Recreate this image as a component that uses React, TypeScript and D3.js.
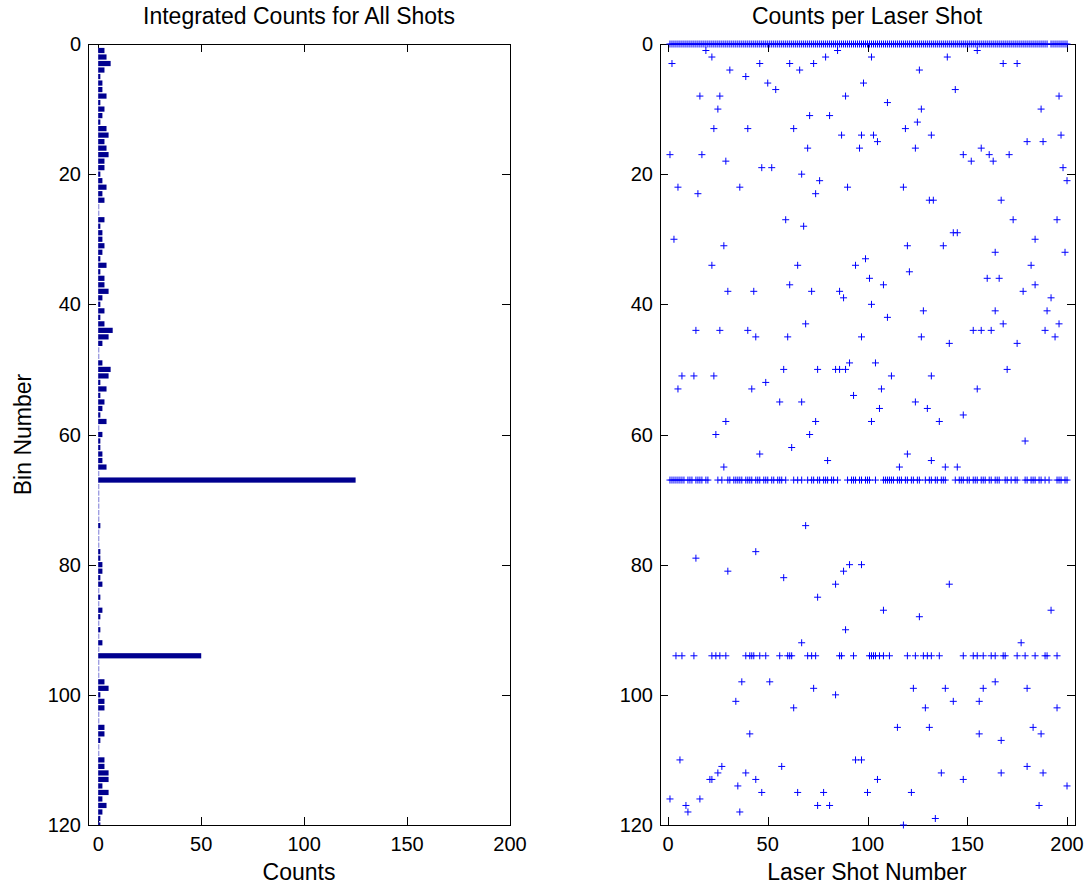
import React from 'react';
import * as d3 from 'd3';

// Integrated counts per bin (bins 1..120), summed over all laser shots
const binNumbers = d3.range(1, 121);
const integratedCounts = [
  3, 4, 6, 3, 1, 2, 2, 4, 1, 3,
  2, 1, 4, 5, 3, 4, 5, 3, 3, 1,
  2, 4, 2, 3, 0, 0, 3, 1, 2, 2,
  3, 2, 1, 4, 1, 3, 3, 5, 2, 1,
  3, 1, 3, 7, 5, 2, 0, 0, 2, 6,
  5, 1, 4, 1, 3, 2, 1, 4, 0, 2,
  1, 1, 2, 2, 4, 0, 125, 0, 0, 0,
  0, 0, 0, 1, 0, 0, 0, 1, 1, 2,
  2, 1, 2, 0, 1, 0, 2, 1, 0, 1,
  0, 2, 0, 50, 0, 0, 0, 3, 5, 1,
  3, 3, 0, 0, 3, 3, 1, 0, 0, 3,
  3, 5, 5, 2, 5, 2, 4, 2, 1, 1,
];

// Shots that registered a count in bin 0
const zeroBinShots = [
  1, 2, 3, 4, 5, 6, 7, 8, 9, 10, 11, 12, 13, 14, 15, 16, 17, 18, 19, 20,
  21, 22, 23, 24, 25, 26, 27, 28, 29, 30, 31, 32, 33, 34, 35, 36, 37, 38, 39, 40,
  41, 42, 43, 44, 45, 46, 47, 48, 49, 50, 51, 52, 53, 54, 55, 56, 57, 58, 59, 60,
  61, 62, 63, 64, 65, 66, 67, 68, 69, 70, 71, 72, 73, 74, 75, 76, 77, 78, 79, 80,
  81, 82, 83, 84, 85, 86, 87, 88, 89, 90, 91, 92, 93, 94, 95, 96, 97, 98, 99, 100,
  101, 102, 103, 104, 105, 106, 107, 108, 109, 110, 111, 112, 113, 114, 115, 116, 117, 118, 119, 120,
  121, 122, 123, 124, 125, 126, 127, 128, 129, 130, 131, 132, 133, 134, 135, 136, 137, 138, 139, 140,
  141, 142, 143, 144, 145, 146, 147, 148, 149, 150, 151, 152, 153, 154, 155, 156, 157, 158, 159, 160,
  161, 162, 163, 164, 165, 166, 167, 168, 169, 170, 171, 172, 173, 174, 175, 176, 177, 178, 179, 180,
  181, 182, 183, 184, 185, 186, 187, 188, 189, 190, 192, 193, 194, 195, 196, 197, 198, 199, 200,
];

// Shots with a count in bin 67
const bin67Shots = [
  1, 2, 3, 4, 5, 6, 7, 8, 10, 11, 12, 14, 15, 16, 17, 19, 20,
  25, 27,
  30, 31, 33, 34, 35, 36, 37, 39, 40, 41, 42,
  44, 45, 46, 48, 49, 50, 52, 53, 55, 56, 57, 59,
  63, 65, 67,
  70, 72, 73,
  75, 76, 78, 79, 80, 82, 83, 85,
  90, 92, 93, 94, 96, 97, 99, 100, 101,
  104,
  108, 109, 110, 111, 112, 113, 115, 116, 117, 119, 120, 122, 123, 125, 126,
  129, 131, 132, 134, 135, 137, 138, 139,
  144, 146, 147, 148, 150, 151, 153, 154, 155, 157, 158, 159, 161, 162, 164, 165, 166,
  169, 170, 172, 174, 175,
  179, 180, 182, 183, 184, 186, 187, 189,
  191,
  195, 196, 197, 199, 200,
];

// Shots with a count in bin 94
const bin94Shots = [
  4, 7, 13, 22, 24, 26, 29, 39, 41, 42, 43, 46, 49, 56, 60, 61, 62, 70, 72, 74,
  86, 87, 93, 101, 102, 103, 104, 106, 108, 111, 120, 124, 128, 130, 132, 136,
  148, 153, 155, 158, 162, 164, 168, 169, 175, 179, 184, 189, 190, 195,
];

// Remaining isolated hits: [bin, shots that hit it]
const scatteredHits: [number, number[]][] = [
  [1, [19, 85, 155]], [2, [22, 79, 102, 140]], [3, [2, 46, 61, 73, 168, 175]],
  [4, [31, 66, 126]], [5, [39]], [6, [50, 98]], [7, [54, 144]],
  [8, [16, 26, 89, 196]], [9, [110]], [10, [25, 127, 187]], [11, [71, 81]],
  [12, [125]], [13, [23, 40, 63, 119]], [14, [87, 97, 103, 132, 197]],
  [15, [105, 180, 188]], [16, [70, 96, 124, 157]], [17, [1, 17, 148, 161, 171]],
  [18, [29, 152, 163]], [19, [47, 52, 198]], [20, [67]], [21, [76, 200]],
  [22, [5, 36, 90, 118]], [23, [15, 74]], [24, [131, 133, 167]],
  [27, [59, 173, 195]], [28, [68]], [29, [143, 145]], [30, [3, 184]],
  [31, [28, 120, 138]], [32, [164, 199]], [33, [99]], [34, [22, 65, 94, 182]],
  [35, [121]], [36, [101, 160, 166]], [37, [61, 108, 184]],
  [38, [30, 43, 72, 86, 178]], [39, [88, 192]], [40, [102]],
  [41, [128, 164, 190]], [42, [110]], [43, [69, 168, 196]],
  [44, [14, 26, 40, 153, 157, 162, 189]], [45, [44, 60, 97, 127, 194]],
  [46, [141, 175]], [49, [91, 104]], [50, [58, 75, 84, 86, 89, 170]],
  [51, [7, 13, 23, 112, 132]], [52, [49]], [53, [5, 42, 107, 155]], [54, [93]],
  [55, [56, 67, 124]], [56, [106, 130]], [57, [148]], [58, [29, 74, 102, 136]],
  [60, [24, 71]], [61, [179]], [62, [62]], [63, [46, 120]], [64, [80, 132]],
  [65, [28, 116, 139, 145]], [74, [69]], [78, [44]], [79, [14]], [80, [91, 97]],
  [81, [30, 88]], [82, [58]], [83, [84, 141]], [85, [75]], [87, [108, 192]],
  [88, [126]], [90, [89]], [92, [67, 177]], [98, [37, 51, 164]],
  [99, [73, 123, 139, 158, 180]], [100, [84]], [101, [34, 143, 156]],
  [102, [63, 129, 195]], [105, [115, 131, 183]], [106, [41, 156, 187]],
  [107, [167]], [110, [6, 94, 97]], [111, [27, 57, 180]],
  [112, [25, 39, 137, 167, 188]], [113, [21, 22, 44, 105, 148]], [114, [35, 200]],
  [115, [47, 65, 78, 100, 122]], [116, [1, 16]], [117, [9, 75, 81, 186]],
  [118, [10, 36]], [119, [134]], [120, [118]],
];

const binTicks = [0, 20, 40, 60, 80, 100, 120];
const countTicks = [0, 50, 100, 150, 200];
const shotTicks = [0, 50, 100, 150, 200];

const FONT = '"Liberation Sans", Arial, Helvetica, sans-serif';
const TICK_FONT = 20;
const LABEL_FONT = 23;
const TICK_LEN = 8;

const top = 44;
const bottom = 825;

const yBin = d3.scaleLinear().domain([0, 120]).range([top, bottom]);
const xCount = d3.scaleLinear().domain([-5, 200]).range([88, 510]);
const xShot = d3.scaleLinear().domain([-4, 204]).range([660, 1075]);

type Pt = { shot: number; bin: number };

const scatterPoints: Pt[] = [
  ...zeroBinShots.map((s) => ({ shot: s, bin: 0 })),
  ...bin67Shots.map((s) => ({ shot: s, bin: 67 })),
  ...bin94Shots.map((s) => ({ shot: s, bin: 94 })),
  ...scatteredHits.flatMap(([b, shots]) => shots.map((s) => ({ shot: s, bin: b }))),
];

function Frame({ x0, x1, xTicks, xScale, yTickX }: {
  x0: number; x1: number; xTicks: number[]; xScale: d3.ScaleLinear<number, number>; yTickX: number;
}) {
  return (
    <g>
      <g shapeRendering="crispEdges">
        <rect x={x0 + 0.5} y={top + 0.5} width={x1 - x0} height={bottom - top} fill="none" stroke="#000" strokeWidth={1} />
        {binTicks.map((t) => (
          <g key={'y' + t}>
            <line x1={x0} x2={x0 + TICK_LEN} y1={Math.round(yBin(t)) + 0.5} y2={Math.round(yBin(t)) + 0.5} stroke="#000" />
            <line x1={x1 - TICK_LEN} x2={x1} y1={Math.round(yBin(t)) + 0.5} y2={Math.round(yBin(t)) + 0.5} stroke="#000" />
          </g>
        ))}
        {xTicks.map((t) => (
          <g key={'x' + t}>
            <line x1={Math.round(xScale(t)) + 0.5} x2={Math.round(xScale(t)) + 0.5} y1={bottom} y2={bottom - TICK_LEN} stroke="#000" />
            <line x1={Math.round(xScale(t)) + 0.5} x2={Math.round(xScale(t)) + 0.5} y1={top} y2={top + TICK_LEN} stroke="#000" />
          </g>
        ))}
      </g>
      {binTicks.map((t) => (
        <text key={'yl' + t} x={yTickX} y={yBin(t)} dy="0.35em" textAnchor="end" fontFamily={FONT} fontSize={TICK_FONT} fill="#000">{t}</text>
      ))}
      {xTicks.map((t) => (
        <text key={'xl' + t} x={xScale(t)} y={851} textAnchor="middle" fontFamily={FONT} fontSize={TICK_FONT} fill="#000">{t}</text>
      ))}
    </g>
  );
}

export default function App() {
  const barH = (yBin(1) - yBin(0)) * 0.8;
  const arm = 3.5;
  return (
    <svg width={1089} height={885} style={{ position: 'absolute', left: 0, top: 0, background: '#fff' }}>
      <rect width={1089} height={885} fill="#fff" />

      {/* Left panel: horizontal histogram of integrated counts */}
      <Frame x0={88} x1={510} xTicks={countTicks} xScale={xCount} yTickX={81} />
      <g>
        {binNumbers.map((b, i) => {
          const yc = yBin(b);
          const v = integratedCounts[i];
          const y0 = Math.max(top, yc - barH / 2);
          const y1 = Math.min(bottom, yc + barH / 2);
          return (
            <g key={b}>
              <line x1={xCount(0) + 0.5} x2={xCount(0) + 0.5} y1={y0} y2={y1} stroke="#7a7ad6" strokeWidth={1} />
              {v > 0 && (
                <rect x={xCount(0)} y={y0} width={xCount(v) - xCount(0)} height={y1 - y0} fill="#00008f" />
              )}
            </g>
          );
        })}
      </g>
      <text x={299} y={24} textAnchor="middle" fontFamily={FONT} fontSize={LABEL_FONT}>Integrated Counts for All Shots</text>
      <text x={299} y={880} textAnchor="middle" fontFamily={FONT} fontSize={LABEL_FONT}>Counts</text>
      <text transform={`translate(31, ${(top + bottom) / 2}) rotate(-90)`} textAnchor="middle" fontFamily={FONT} fontSize={LABEL_FONT}>Bin Number</text>

      {/* Right panel: per-shot hits */}
      <Frame x0={660} x1={1075} xTicks={shotTicks} xScale={xShot} yTickX={653} />
      <g stroke="#0000ff" strokeWidth={1} fill="none">
        {scatterPoints.map((p, i) => {
          const cx = xShot(p.shot);
          const cy = yBin(p.bin);
          return (
            <path key={i} d={`M${cx - arm},${cy}H${cx + arm}M${cx},${cy - arm}V${cy + arm}`} />
          );
        })}
      </g>
      <text x={867} y={24} textAnchor="middle" fontFamily={FONT} fontSize={LABEL_FONT}>Counts per Laser Shot</text>
      <text x={867} y={880} textAnchor="middle" fontFamily={FONT} fontSize={LABEL_FONT}>Laser Shot Number</text>
    </svg>
  );
}
